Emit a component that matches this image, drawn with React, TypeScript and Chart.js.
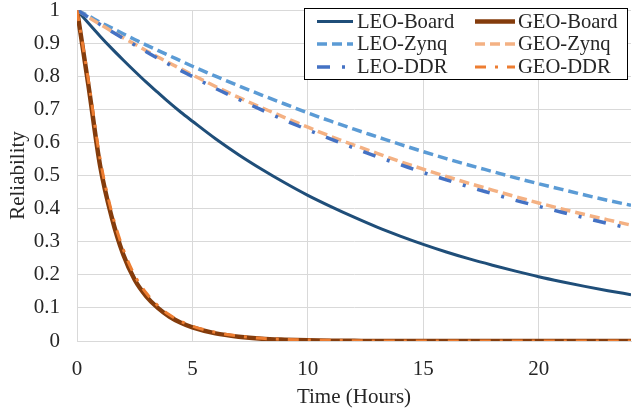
import React, { useEffect, useRef } from "react";
import { Chart, registerables } from "chart.js";

Chart.register(...registerables);

// Time in hours
const hours = [0, 0.5, 1, 1.5, 2, 2.5, 3, 3.5, 4, 4.5, 5, 6, 7, 8, 9, 10, 11, 12, 13, 14, 15, 16, 17, 18, 19, 20, 21, 22, 23, 24];

const leoBoard = [1, 0.96, 0.921, 0.884, 0.849, 0.815, 0.782, 0.751, 0.72, 0.691, 0.664, 0.611, 0.563, 0.519, 0.478, 0.44, 0.406, 0.374, 0.344, 0.317, 0.292, 0.269, 0.248, 0.229, 0.211, 0.194, 0.179, 0.165, 0.152, 0.14];
const geoBoard = [1, 0.77, 0.53, 0.375, 0.262, 0.185, 0.135, 0.1, 0.074, 0.055, 0.041, 0.023, 0.013, 0.007, 0.004, 0.002, 0.001, 0.0005, 0, 0, 0, 0, 0, 0, 0, 0, 0, 0, 0, 0];
const leoZynq = [1, 0.982, 0.963, 0.946, 0.928, 0.911, 0.894, 0.878, 0.862, 0.846, 0.83, 0.8, 0.771, 0.743, 0.716, 0.689, 0.664, 0.64, 0.617, 0.594, 0.572, 0.551, 0.531, 0.512, 0.493, 0.475, 0.458, 0.441, 0.425, 0.41];
const geoZynq = [1, 0.978, 0.957, 0.936, 0.916, 0.897, 0.877, 0.858, 0.84, 0.822, 0.804, 0.769, 0.736, 0.705, 0.675, 0.646, 0.618, 0.592, 0.567, 0.542, 0.519, 0.497, 0.476, 0.456, 0.436, 0.417, 0.399, 0.382, 0.366, 0.35];
const leoDdr = [1, 0.978, 0.956, 0.935, 0.914, 0.894, 0.874, 0.854, 0.835, 0.817, 0.799, 0.763, 0.73, 0.698, 0.667, 0.638, 0.61, 0.583, 0.557, 0.533, 0.509, 0.487, 0.465, 0.445, 0.425, 0.407, 0.389, 0.372, 0.355, 0.34];
const geoDdr = [1, 0.785, 0.55, 0.39, 0.278, 0.198, 0.145, 0.107, 0.079, 0.059, 0.045, 0.026, 0.015, 0.008, 0.005, 0.003, 0.002, 0.001, 0, 0, 0, 0, 0, 0, 0, 0, 0, 0, 0, 0];

const seriesNames = ["LEO-Board", "GEO-Board", "LEO-Zynq", "GEO-Zynq", "LEO-DDR", "GEO-DDR"];
const xTickValues = [0, 5, 10, 15, 20];
const xTitle = "Time (Hours)";
const yTitle = "Reliability";

const FONT = "'Liberation Serif', 'Times New Roman', serif";
const TEXT = "#262626";

const styles = [
  { color: "#1F4E79", width: 3, dash: [] as number[] },
  { color: "#843C0C", width: 4.5, dash: [] as number[] },
  { color: "#5B9BD5", width: 3.5, dash: [10, 5] },
  { color: "#F4B183", width: 3.5, dash: [10, 5] },
  { color: "#4472C4", width: 3.5, dash: [13, 12, 3, 12] },
  { color: "#ED7D31", width: 3, dash: [11, 9, 3, 9] },
];

const legendPlugin = {
  id: "boxLegend",
  afterDraw(chart: any) {
    const ctx = chart.ctx;
    ctx.save();
    const bx = 304.5, by = 8.5, bw = 323, bh = 71;
    ctx.fillStyle = "#ffffff";
    ctx.fillRect(bx, by, bw, bh);
    ctx.strokeStyle = "#000000";
    ctx.lineWidth = 1;
    ctx.strokeRect(bx, by, bw, bh);
    const rows = [21.5, 44, 67];
    const cols = [
      { x0: 317, x1: 353, tx: 357 },
      { x0: 475, x1: 515, tx: 518 },
    ];
    ctx.font = `20.6px ${FONT}`;
    ctx.textBaseline = "middle";
    ctx.textAlign = "left";
    seriesNames.forEach((name, i) => {
      const r = Math.floor(i / 2);
      const c = cols[i % 2];
      const st = styles[i];
      const y = rows[r];
      ctx.beginPath();
      ctx.setLineDash(st.dash);
      ctx.lineDashOffset = 0;
      ctx.strokeStyle = st.color;
      ctx.lineWidth = st.width;
      ctx.moveTo(c.x0, y);
      ctx.lineTo(c.x1, y);
      ctx.stroke();
      ctx.setLineDash([]);
      ctx.fillStyle = TEXT;
      ctx.fillText(name, c.tx, y + 1);
    });
    ctx.restore();
  },
};

export default function App() {
  const ref = useRef<HTMLCanvasElement | null>(null);

  useEffect(() => {
    if (!ref.current) return;
    const all = [leoBoard, geoBoard, leoZynq, geoZynq, leoDdr, geoDdr];
    const datasets = all.map((vals, i) => ({
      label: seriesNames[i],
      data: hours.map((h, k) => ({ x: h, y: vals[k] })),
      borderColor: styles[i].color,
      backgroundColor: styles[i].color,
      borderWidth: styles[i].width,
      borderDash: styles[i].dash,
      pointRadius: 0,
      fill: false,
      cubicInterpolationMode: "monotone" as const,
      order: 6 - i,
    }));
    const chart = new Chart(ref.current, {
      type: "line",
      data: { datasets },
      plugins: [legendPlugin],
      options: {
        animation: false,
        responsive: false,
        devicePixelRatio: 1,
        layout: { padding: { top: 10, right: 2, left: 0, bottom: 0 } },
        plugins: { legend: { display: false }, tooltip: { enabled: false } },
        scales: {
          x: {
            type: "linear",
            min: 0,
            max: 24,
            afterBuildTicks: (s: any) => {
              s.ticks = xTickValues.map((v) => ({ value: v }));
            },
            afterFit: (s: any) => {
              s.height = 72;
              s.paddingLeft = 0;
              s.paddingRight = 0;
            },
            ticks: { font: { family: FONT, size: 21 }, color: TEXT, padding: 16, maxRotation: 0 },
            grid: { color: "#d9d9d9", lineWidth: 1, drawTicks: false },
            border: { color: "#d9d9d9", width: 1 },
            title: { display: true, text: xTitle, font: { family: FONT, size: 21 }, color: TEXT, padding: { top: 0, bottom: 3 } },
          },
          y: {
            type: "linear",
            min: 0,
            max: 1,
            ticks: {
              stepSize: 0.1,
              font: { family: FONT, size: 21 },
              color: TEXT,
              padding: 17,
              callback: (v: any) => String(Number(Number(v).toFixed(1))),
            },
            afterFit: (s: any) => {
              s.width = 77;
              s.paddingTop = 0;
              s.paddingBottom = 0;
            },
            grid: { color: "#d9d9d9", lineWidth: 1, drawTicks: false },
            border: { color: "#d9d9d9", width: 1 },
            title: { display: true, text: yTitle, font: { family: FONT, size: 21 }, color: TEXT, padding: { top: 6, bottom: 0 } },
          },
        },
      },
    });
    return () => chart.destroy();
  }, []);

  return (
    <div style={{ position: "fixed", left: 0, top: 0, width: 633, height: 413, background: "#fff" }}>
      <canvas ref={ref} width={633} height={413} style={{ width: 633, height: 413, display: "block" }} />
    </div>
  );
}
